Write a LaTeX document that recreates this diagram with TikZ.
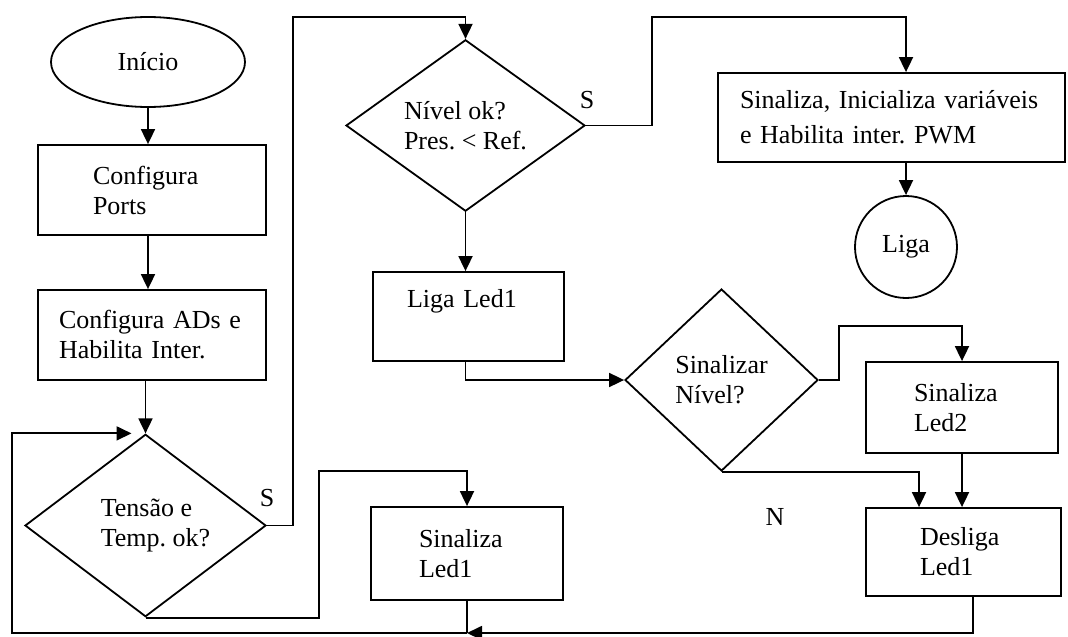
\documentclass[tikz,border=0pt]{standalone}
\usepackage{fontspec}
\setmainfont{Liberation Serif}
\usetikzlibrary{shapes.geometric,arrows.meta}
\frenchspacing
\begin{document}
\begin{tikzpicture}[x=1pt,y=-1pt,
  every node/.style={font=\fontsize{26}{30}\selectfont\frenchspacing},
  line/.style={line width=1.8pt},
  arr/.style={line, -{Triangle[length=15pt,width=14pt]}},
  proc/.style={draw, line width=1.8pt, rectangle, align=left, inner ysep=0pt},
  dec/.style={draw, line width=1.8pt, diamond, align=left, inner sep=0pt},
  term/.style={draw, line width=1.8pt, inner sep=0pt},
  lbl/.style={inner sep=0pt}]
\useasboundingbox (0,0) rectangle (1068,637);

% start and initialisation
\node[term, ellipse, minimum width=194pt, minimum height=90pt] (inicio) at (148,62) {Início};
\node[proc, minimum width=228pt, minimum height=90pt, inner xsep=55pt, text width=118pt] (ports) at (152,190) {Configura\\Ports};
\node[proc, minimum width=228pt, minimum height=90pt, inner xsep=21pt, text width=186pt] (ads) at (152,335) {Configura ADs e\\Habilita Inter.};
\node[dec, minimum width=241pt, minimum height=181pt] (tensao) at (145.5,525.5) {\hspace*{20pt}Tensão e\\\hspace*{20pt}Temp. ok?};
\node[proc, minimum width=192pt, minimum height=93pt, inner xsep=48pt, text width=96pt] (ledA) at (467,553.5) {Sinaliza\\Led1};

% level check
\node[dec, minimum width=239pt, minimum height=145pt] (nivel) at (465.5,125.5) {Nível ok?\\Pres. < Ref.};
\node[proc, minimum width=191pt, minimum height=89pt, inner xsep=34pt, text width=123pt, text depth=37pt] (ligaled) at (468.5,316.5) {Liga Led1};
\node[proc, minimum width=347pt, minimum height=89pt, inner xsep=22pt, text width=303pt, font=\fontsize{26}{35}\selectfont\frenchspacing] (pwm) at (891.5,117.5) {Sinaliza, Inicializa variáveis\\e Habilita inter. PWM};
\node[term, circle, minimum size=102pt] (liga) at (906,247) {Liga};

% level signalling
\node[dec, minimum width=193pt, minimum height=182pt] (sinalizar) at (721.5,380) {Sinalizar\\Nível?};
\node[proc, minimum width=192pt, minimum height=91pt, inner xsep=48pt, text width=96pt] (ledB) at (962,407.5) {Sinaliza\\Led2};
\node[proc, minimum width=195pt, minimum height=88pt, inner xsep=54pt, text width=87pt] (desliga) at (963.5,552) {Desliga\\Led1};

% branch labels
\node[lbl] (s1) at (267,498) {S};
\node[lbl] (s2) at (587,100) {S};
\node[lbl] (n1) at (775,517) {N};

% routing points
\coordinate (c1) at (293,17);
\coordinate (c2) at (652,17);
\coordinate (c3) at (839,326);
\coordinate (c5) at (319,471);
\coordinate (join) at (467,633);

% connectors
\draw[arr] (inicio.south) -- (inicio.south |- ports.north);
\draw[arr] (inicio.south |- ports.south) -- (inicio.south |- ads.north);
\draw[arr] (tensao.north |- ads.south) -- (tensao.north);
\draw[arr] (tensao.east) -| (c1) -| (nivel.north);
\draw[arr] (nivel.east) -| (c2) -| (liga.north |- pwm.north);
\draw[arr] (liga.north |- pwm.south) -- (liga.north);
\draw[arr] (nivel.south) -- (nivel.south |- ligaled.north);
\draw[arr] (nivel.south |- ligaled.south) |- (sinalizar.west);
\draw[arr] (sinalizar.east) -| (c3) -| (ledB.north);
\draw[arr] (ledB.south) -- (ledB.south |- desliga.north);
\draw[arr] (sinalizar.south) -| ([xshift=-44.5pt]desliga.north);
\draw[arr] (tensao.south) -| (c5) -| (ledA.north);
\draw[arr] ([xshift=9.5pt]desliga.south) |- (join);
\draw[line] (ledA.south) -- (join);
\draw[arr] (join) -| ([xshift=-133.5pt]tensao.north) -- ([xshift=-14pt]tensao.north);
\end{tikzpicture}
\end{document}
